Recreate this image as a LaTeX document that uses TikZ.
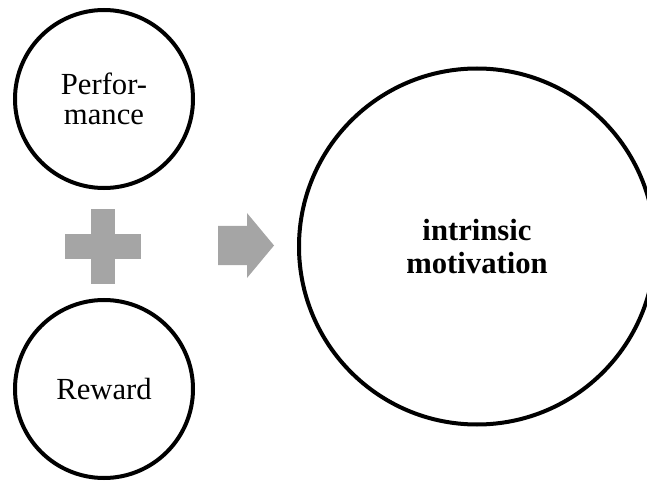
\documentclass[tikz,border=0pt]{standalone}
\usepackage{fontspec}
\setmainfont{Liberation Serif}
\usetikzlibrary{positioning}
\definecolor{signgray}{HTML}{A5A5A5}
\newcommand{\ringfont}{\fontsize{23pt}{22pt}\selectfont}
\newcommand{\bigringfont}{\fontsize{23pt}{25pt}\selectfont\bfseries}

\begin{document}
\begin{tikzpicture}[x=0.75pt, y=0.75pt,
    ring/.style={circle, draw=black, line width=3pt, minimum size=133.5pt, inner sep=0pt, align=center, font=\ringfont},
    bigring/.style={circle, draw=black, line width=3pt, minimum size=267pt, inner sep=0pt, align=center, font=\bigringfont}]
    % Page frame, the big circle runs past the right edge
    \useasboundingbox (0,0) rectangle (647,483);
    \clip (0,0) rectangle (647,483);

    % Left column circles
    \node[ring] (perf) at (104,384) {Perfor-\\mance};
    \node[ring] (reward) at (104,94) {Reward};

    % Big circle on the right
    \node[bigring] (motiv) at (477,236.5) {intrinsic\\motivation};

    % Plus sign between the two small circles
    \coordinate (plus) at (103,236.5);
    \fill[signgray] (plus) ++(-38,-12.5) rectangle ++(76,25);
    \fill[signgray] (plus) ++(-12,-37.5) rectangle ++(24,75);

    % Block arrow towards the big circle
    \coordinate (arr) at (246,237.5);
    \fill[signgray] (arr) ++(-28,-19.5) -- ++(29,0) -- ++(0,-13) -- ++(27,32.5)
        -- ++(-27,32.5) -- ++(0,-13) -- ++(-29,0) -- cycle;
\end{tikzpicture}
\end{document}
